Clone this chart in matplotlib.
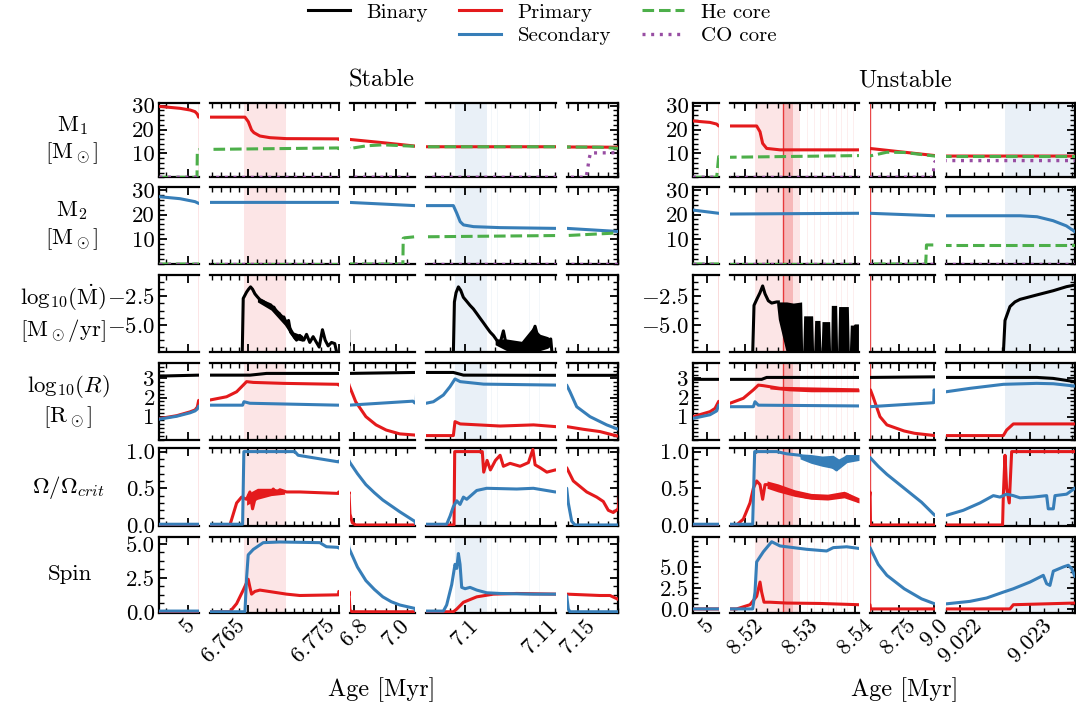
import matplotlib
matplotlib.use('Agg')
import matplotlib.pyplot as plt
from matplotlib.lines import Line2D
from matplotlib.ticker import MultipleLocator, AutoMinorLocator

plt.rcParams.update({
    'font.family': 'serif',
    'font.serif': ['cmr10'],
    'mathtext.fontset': 'cm',
    'axes.formatter.use_mathtext': True,
    'font.size': 17.5,
    'axes.linewidth': 1.6,
})

RED, BLUE, GREEN, PURPLE = '#e41a1c', '#377eb8', '#4daf4a', '#984ea3'

# ---------------- Stable system ----------------
st_m1_age = [3.715, 4.645, 5.095, 5.32, 5.425, 5.485,
             6.76075, 6.76462, 6.76499, 6.76535, 6.76561, 6.76627, 6.76738, 6.76922, 6.77496,
             6.775, 6.9366, 7.0884, 7.0948, 7.1120, 7.1387, 7.192]
st_m1 = [29.7, 28.9, 28.2, 27.5, 26.5, 25.2,
         25.2, 25.2, 23.3, 19.8, 18.7, 17.3, 16.6, 16.2, 16.1,
         15.9, 14.5, 13.1, 12.8, 12.8, 12.7, 12.6]
st_he1_age = [3.715, 5.41, 5.425, 5.485, 6.76075, 6.77496, 6.775, 6.8589, 6.9366, 7.0884,
              7.0948, 7.1120, 7.1387, 7.172, 7.192]
st_he1 = [0, 0, 11.3, 11.5, 11.7, 12.3, 12.0, 13.2, 13.6, 13.0, 12.8, 12.8, 12.7, 12.6, 12.1]
st_co1_age = [3.715, 7.158, 7.1595, 7.161, 7.1625, 7.192]
st_co1 = [0, 0, 3.0, 7.5, 10.2, 10.3]

st_m2_age = [3.715, 4.645, 5.32, 5.485, 6.76075, 6.77496, 6.775, 7.0884, 7.0948, 7.09844,
             7.09890, 7.09935, 7.09979, 7.10112, 7.10467, 7.1120, 7.1387, 7.192]
st_m2 = [27.2, 26.4, 25.2, 24.5, 24.9, 24.9, 24.9, 23.6, 23.6, 23.6,
         20.5, 17.1, 15.8, 15.1, 14.7, 14.4, 14.4, 13.1]
st_he2_age = [3.715, 7.0322, 7.0338, 7.0419, 7.0884, 7.0948, 7.1120, 7.1387, 7.192]
st_he2 = [0, 0, 10.4, 10.6, 11.0, 11.0, 11.5, 11.5, 12.6]
st_co2_age = [3.715, 7.192]
st_co2 = [0, 0]

st_mdot1_age = [6.76432, 6.76443, 6.76480, 6.76502, 6.76524, 6.76546, 6.76572, 6.76598, 6.76627,
                6.76664, 6.76701, 6.76730, 6.76756, 6.76782, 6.76811, 6.76841, 6.76867, 6.76892,
                6.76922, 6.76944, 6.76966, 6.76995, 6.77032, 6.77069, 6.77113, 6.77143, 6.77179,
                6.77216, 6.77253, 6.77283, 6.77319, 6.77349, 6.77382, 6.77419, 6.77455, 6.77481]
st_mdot1 = [-7.5, -2.7, -2.15, -1.9, -1.7, -1.9, -2.3, -2.55, -2.8,
            -2.95, -3.15, -3.3, -3.5, -3.45, -3.9, -4.0, -4.4, -4.3,
            -4.9, -4.6, -5.6, -5.9, -6.3, -5.9, -6.3, -5.8, -6.5,
            -6.0, -6.5, -6.9, -5.4, -6.3, -6.8, -6.5, -6.6, -7.5]
st_band1_age = [6.7660, 6.7675, 6.7690, 6.7700, 6.7710]
st_band1_hi = [-2.6, -3.1, -4.3, -5.6, -5.9]
st_band1_lo = [-3.0, -3.7, -5.0, -6.2, -6.4]
st_mdot2_age = [7.09844, 7.09858, 7.09880, 7.09911, 7.09942, 7.09977, 7.10022, 7.10066, 7.10110,
                7.10155, 7.10199, 7.10244, 7.10288, 7.10333, 7.10377, 7.10421, 7.10465, 7.10510,
                7.10554, 7.10643, 7.10732, 7.10821, 7.10887, 7.10931, 7.10976, 7.11042, 7.11109,
                7.11140, 7.11158]
st_mdot2 = [-7.5, -3.0, -2.2, -1.7, -2.0, -2.6, -2.95, -3.3, -3.6,
            -4.0, -4.4, -4.8, -5.2, -5.6, -5.9, -6.3, -6.6, -5.5,
            -6.9, -7.1, -7.0, -6.8, -5.9, -5.1, -6.2, -6.4, -6.3, -6.2, -7.5]
st_band2_age = [7.1040, 7.1055, 7.1075, 7.1090, 7.1100, 7.1110, 7.1114]
st_band2_hi = [-6.2, -6.2, -6.4, -5.2, -5.8, -6.0, -6.2]
st_band2_lo = [-6.7, -7.2, -7.3, -7.3, -7.2, -7.0, -6.8]

st_rb_age = [3.715, 5.485, 6.76075, 6.76519, 6.76701, 6.77496, 6.775, 7.0884, 7.0948, 7.09844,
             7.09979, 7.1120, 7.1387, 7.188, 7.192]
st_rb = [3.12, 3.17, 3.17, 3.17, 3.26, 3.26, 3.26, 3.31, 3.31, 3.31, 3.17, 3.16, 3.16, 3.16, 3.22]
st_r1_age = [3.715, 4.495, 5.095, 5.32, 5.425, 5.485,
             6.76075, 6.76259, 6.76370, 6.76443, 6.76480, 6.76554, 6.76885, 6.77496,
             6.775, 6.7912, 6.8073, 6.8558, 6.9042, 6.9527, 7.0173, 7.0884,
             7.0948, 7.09844, 7.09866, 7.09935, 7.10467, 7.10911, 7.1120,
             7.1387, 7.1553, 7.172, 7.1853, 7.192]
st_r1 = [0.9, 1.05, 1.25, 1.35, 1.5, 1.85,
         1.87, 2.04, 2.3, 2.65, 2.83, 2.79, 2.74, 2.69,
         2.65, 2.22, 1.78, 1.0, 0.57, 0.3, 0.1, 0.04,
         0.01, 0.01, 0.74, 0.62, 0.51, 0.57, 0.48,
         0.48, 0.34, 0.22, 0.04, -0.04]
st_r2_age = [3.715, 4.495, 5.095, 5.32, 5.425, 5.485,
             6.76075, 6.76436, 6.76451, 6.76517, 6.77496,
             6.775, 7.08, 7.0884,
             7.0948, 7.09578, 7.09711, 7.09800, 7.09866, 7.09935, 7.10246, 7.1120,
             7.1387, 7.1420, 7.1487, 7.1620, 7.1787, 7.1903]
st_r2 = [0.87, 1.02, 1.2, 1.3, 1.4, 1.55,
         1.6, 1.6, 1.78, 1.70, 1.6,
         1.6, 1.81, 1.72,
         1.7, 1.78, 2.13, 2.57, 2.97, 2.83, 2.70, 2.65,
         2.65, 2.3, 1.52, 1.0, 0.57, 0.34]

st_w1_age = [3.715, 5.485,
             6.76075, 6.76296, 6.76333, 6.76370, 6.76425, 6.76480, 6.76517, 6.76546, 6.76591,
             6.76664, 6.76701, 6.76738, 6.76775, 6.76811, 6.76848, 6.76922, 6.77069, 6.77496,
             6.775, 6.7798, 6.7911, 6.8073, 7.0884,
             7.0948, 7.09853, 7.09862, 7.10229, 7.10248, 7.10293, 7.10337, 7.10404, 7.10466,
             7.10510, 7.10599, 7.10732, 7.10843, 7.10902, 7.10932, 7.10999, 7.11088, 7.1120,
             7.1387, 7.1453, 7.1587, 7.1687, 7.1753, 7.1803, 7.1853, 7.1903, 7.192]
st_w1 = [0, 0,
         0, 0, 0.15, 0.3, 0.38, 0.35, 0.45, 0.22, 0.45,
         0.4, 0.47, 0.42, 0.49, 0.44, 0.48, 0.45, 0.45, 0.43,
         0.45, 0.15, 0.03, 0.0, 0.0,
         0, 0, 1.0, 1.0, 0.72, 0.88, 0.75, 0.88, 0.95,
         0.8, 0.84, 0.8, 0.85, 1.03, 0.82, 0.78, 0.72, 0.75,
         0.78, 0.6, 0.45, 0.38, 0.32, 0.2, 0.17, 0.22, 0.5]
st_w1_band_age = [6.7648, 6.7660, 6.7675, 6.7690]
st_w1_band_hi = [0.42, 0.5, 0.5, 0.48]
st_w1_band_lo = [0.27, 0.35, 0.4, 0.42]
st_w2_age = [3.715, 5.485,
             6.76075, 6.76436, 6.76450, 6.77014, 6.77050, 6.77496,
             6.775, 6.8154, 6.8557, 6.8961, 6.9365, 6.9769, 7.0173, 7.0884,
             7.0948, 7.09755, 7.09800, 7.09844, 7.09889, 7.09933, 7.09978, 7.10022, 7.10155,
             7.10288, 7.10687, 7.10909, 7.1120,
             7.1387, 7.1403, 7.1437, 7.147, 7.192]
st_w2 = [0.01, 0.01,
         0.01, 0.01, 1.0, 1.0, 0.95, 0.86,
         0.87, 0.7, 0.55, 0.44, 0.34, 0.26, 0.18, 0.05,
         0.01, 0.01, 0.12, 0.25, 0.33, 0.28, 0.38, 0.35, 0.47,
         0.5, 0.49, 0.5, 0.45,
         0.5, 0.3, 0.05, 0.0, 0.0]

st_s1_age = [3.715, 5.485,
             6.76075, 6.76296, 6.76370, 6.76443, 6.76498, 6.76517, 6.76535, 6.76572, 6.76627,
             6.76775, 6.76922, 6.77069, 6.77496,
             6.775, 6.7798, 6.7911, 7.0884,
             7.0948, 7.09844, 7.09889, 7.09978, 7.10155, 7.10377, 7.10687, 7.1120,
             7.1387, 7.172, 7.1820, 7.192]
st_s1 = [0, 0,
         0, 0, 0.6, 1.6, 2.4, 1.8, 1.3, 1.5, 1.6,
         1.45, 1.3, 1.2, 1.25,
         1.5, 0.1, 0.0, 0.0,
         0, 0, 0.2, 0.7, 1.1, 1.3, 1.35, 1.3,
         1.3, 1.2, 1.2, 0.85]
st_s2_age = [3.715, 5.485,
             6.76075, 6.76462, 6.76480, 6.76498, 6.76554, 6.76664, 6.76848, 6.77290, 6.77363, 6.77496,
             6.775, 6.8154, 6.8557, 6.8961, 6.9365, 6.9769, 7.0173, 7.0884,
             7.0948, 7.09711, 7.09755, 7.09822, 7.09866, 7.09889, 7.09911, 7.09933, 7.09955,
             7.10000, 7.10066, 7.10155, 7.10288, 7.10465, 7.10909, 7.1120,
             7.1387, 7.1403, 7.142, 7.192]
st_s2 = [0.05, 0.05,
         0.0, 0.0, 2.5, 4.2, 4.6, 5.1, 5.15, 5.1, 4.8, 4.75,
         4.7, 3.3, 2.3, 1.65, 1.1, 0.74, 0.5, 0.25,
         0.05, 0.05, 0.5, 2.0, 3.5, 3.2, 4.3, 3.5, 1.8,
         1.7, 1.8, 1.6, 1.4, 1.35, 1.3, 1.3,
         1.2, 0.2, 0.0, 0.0]

# mass-transfer intervals (start, end)
st_red_spans = [(5.47, 5.49), (6.76451, 6.76915)]
st_blue_spans = [(7.09866, 7.10288), (7.1387, 7.1392)]
st_faint_blue = [7.1035, 7.1043, 7.1085, 7.1098]

# ---------------- Unstable system ----------------
un_m1_age = [4.400, 5.129, 5.415, 5.501,
             8.51727, 8.52211, 8.52272, 8.52320, 8.52393, 8.52635, 8.54070,
             8.545, 9.004, 9.0218, 9.02364]
un_m1 = [23.6, 23.0, 22.3, 21.5,
         21.5, 21.5, 19.1, 14.2, 12.1, 11.5, 11.5,
         12.1, 9.1, 8.9, 8.9]
un_he1_age = [4.400, 5.415, 5.501, 8.51727, 8.54070, 8.545, 8.6662, 8.7880, 9.004, 9.0218, 9.02364]
un_he1 = [0, 0, 8.7, 8.4, 9.1, 8.9, 10.5, 10.4, 8.9, 8.9, 8.9]
un_co1_age = [4.400, 8.988, 8.994, 8.999, 9.004, 9.0218, 9.02364]
un_co1 = [0, 0, 1.7, 5.9, 6.5, 7.0, 7.0]

un_m2_age = [4.4, 5.501, 8.51727, 8.5407, 8.545, 9.004, 9.0218, 9.02286, 9.02310, 9.02333, 9.02352, 9.02364]
un_m2 = [21.8, 20.5, 20.2, 20.5, 20.5, 19.5, 19.5, 19.5, 19.1, 17.5, 15.4, 13.1]
un_he2_age = [4.4, 8.9400, 8.9450, 9.004, 9.0218, 9.02364]
un_he2 = [0, 0, 7.7, 7.7, 7.7, 7.7]
un_co2_age = [4.4, 9.02364]
un_co2 = [0, 0]

un_mdot1_age = [8.52139, 8.52163, 8.52211, 8.52272, 8.52320, 8.52363, 8.52423, 8.52484, 8.52575, 8.52605]
un_mdot1 = [-7.5, -3.3, -2.8, -2.2, -1.62, -2.3, -2.9, -3.1, -3.0, -3.0]
un_env_age = [8.52575, 8.52605, 8.52756, 8.52877, 8.53028, 8.53047, 8.53065, 8.53228, 8.53246,
              8.53265, 8.53361, 8.53380, 8.53398, 8.53537, 8.53555, 8.53567, 8.53664, 8.53682,
              8.53700, 8.53876, 8.53894, 8.53912, 8.53967, 8.53985, 8.54040, 8.54060]
un_env_top = [-3.0, -3.0, -3.0, -3.1, -3.0, -7.5, -4.2, -4.2, -7.5,
              -4.6, -4.6, -7.5, -4.7, -4.7, -7.5, -3.3, -3.3, -7.5,
              -3.4, -3.4, -7.5, -5.0, -5.0, -4.9, -4.9, -4.9]
un_env_bot = [-3.2, -4.5, -7.5, -7.5, -7.5, -7.5, -7.5, -7.5, -7.5,
              -7.5, -7.5, -7.5, -7.5, -7.5, -7.5, -7.5, -7.5, -7.5,
              -7.5, -7.5, -7.5, -7.5, -7.5, -7.5, -7.5, -7.5]
un_mdot2_age = [9.022619, 9.022643, 9.022714, 9.022785, 9.022857, 9.023095, 9.023333, 9.023523, 9.023643]
un_mdot2 = [-7.5, -4.6, -3.4, -3.0, -2.78, -2.4, -2.03, -1.68, -1.54]

un_rb_age = [4.4, 5.501, 8.51727, 8.52302, 8.52393, 8.5407, 8.545, 9.004, 9.0218, 9.02310, 9.02333, 9.02364]
un_rb = [2.95, 2.95, 2.95, 2.95, 3.05, 3.05, 3.05, 3.08, 3.05, 3.05, 3.0, 2.83]
un_r1_age = [4.4, 5.129, 5.344, 5.501,
             8.51727, 8.51969, 8.52151, 8.52242, 8.52332, 8.52635, 8.5407,
             8.551, 8.5694, 8.6181, 8.6668, 8.7886, 8.8617, 9.004,
             9.0218, 9.022619, 9.022666, 9.022762, 9.02364]
un_r1 = [1.0, 1.26, 1.43, 1.8,
         1.7, 1.96, 2.4, 2.65, 2.62, 2.48, 2.4,
         2.4, 2.04, 1.0, 0.57, 0.25, 0.13, 0.01,
         0.01, 0.01, 0.3, 0.62, 0.62]
un_r1_band_age = [8.5245, 8.5280, 8.5320, 8.5360, 8.5400, 8.5407]
un_r1_band_hi = [2.6, 2.5, 2.45, 2.45, 2.45, 2.45]
un_r1_band_lo = [2.45, 2.35, 2.3, 2.3, 2.3, 2.3]
un_r2_age = [4.4, 5.129, 5.415, 5.501,
             8.51727, 8.52151, 8.52181, 8.52242, 8.5407,
             8.545, 8.996, 8.999, 9.004,
             9.0218, 9.022142, 9.022619, 9.023095, 9.023333, 9.02364]
un_r2 = [0.91, 1.1, 1.3, 1.6,
         1.52, 1.52, 1.78, 1.6, 1.56,
         1.52, 1.73, 2.4, 2.3,
         2.3, 2.48, 2.69, 2.74, 2.72, 2.6]

un_w1_age = [4.4, 5.501,
             8.51727, 8.51848, 8.51969, 8.52090, 8.52151, 8.52211, 8.52272, 8.52320, 8.52363,
             8.52454, 8.52635, 8.52877, 8.53119, 8.53482, 8.53846, 8.53967, 8.5407,
             8.548, 8.5515, 9.004,
             9.0218, 9.022609, 9.022619, 9.022643, 9.022666, 9.022704, 9.022738, 9.02364]
un_w1 = [0, 0,
         0, 0, 0.08, 0.3, 0.5, 0.6, 0.55, 0.35, 0.55,
         0.55, 0.48, 0.42, 0.38, 0.37, 0.42, 0.36, 0.32,
         0.45, 0.0, 0.0,
         0.0, 0.0, 0.4, 0.95, 0.5, 0.3, 1.0, 1.0]
un_w1_band_age = [8.5240, 8.5260, 8.5290, 8.5320, 8.5350, 8.5380, 8.5407]
un_w1_band_hi = [0.6, 0.56, 0.48, 0.43, 0.42, 0.46, 0.37]
un_w1_band_lo = [0.5, 0.45, 0.39, 0.35, 0.34, 0.37, 0.3]
un_w2_age = [4.4, 5.501,
             8.51727, 8.52139, 8.52175, 8.52575, 8.52756, 8.52998, 8.53119, 8.53300, 8.53482,
             8.53664, 8.53846, 8.5407,
             8.548, 8.6059, 8.6668, 8.7886, 8.9104, 9.004,
             9.0218, 9.022047, 9.022285, 9.022476, 9.022571, 9.022666, 9.022762, 9.022857,
             9.023047, 9.023238, 9.023261, 9.023333, 9.023357, 9.023523, 9.02364]
un_w2 = [0.01, 0.01,
         0.01, 0.01, 1.0, 1.0, 0.97, 0.95, 0.9, 0.85, 0.85,
         0.75, 0.93, 0.92,
         0.92, 0.8, 0.69, 0.5, 0.31, 0.13,
         0.13, 0.2, 0.3, 0.4, 0.38, 0.42, 0.4, 0.37,
         0.38, 0.4, 0.22, 0.22, 0.4, 0.42, 0.5]
un_w2_band_age = [8.5300, 8.5320, 8.5340, 8.5360, 8.5370, 8.5385, 8.5407]
un_w2_band_hi = [0.97, 0.96, 0.94, 0.95, 0.9, 0.96, 0.96]
un_w2_band_lo = [0.9, 0.84, 0.8, 0.77, 0.76, 0.85, 0.88]

un_s1_age = [4.4, 5.501,
             8.51727, 8.51848, 8.52090, 8.52211, 8.52272, 8.52302, 8.52345, 8.52454, 8.52756,
             8.53361, 8.5407,
             8.548, 8.5515, 9.004,
             9.0218, 9.022714, 9.022762, 9.02364]
un_s1 = [0, 0,
         0, 0, 0.5, 1.5, 3.2, 2.0, 0.8, 0.8, 0.7,
         0.65, 0.5,
         0.5, 0.0, 0.0,
         0, 0, 0.5, 0.7]
un_s2_age = [4.4, 5.501,
             8.51727, 8.52139, 8.52181, 8.52211, 8.52332, 8.52484, 8.52635, 8.52877, 8.53119,
             8.53482, 8.53603, 8.53846, 8.5407,
             8.548, 8.6059, 8.6668, 8.7886, 8.9104, 9.004,
             9.0218, 9.022142, 9.022380, 9.022619, 9.022762, 9.023000, 9.023190, 9.023238,
             9.023285, 9.023333, 9.023476, 9.023547, 9.023595, 9.02364]
un_s2 = [0, 0,
         0, 0, 2.0, 5.6, 6.8, 8.0, 7.5, 7.3, 7.1,
         6.9, 7.3, 7.4, 7.2,
         7.3, 5.3, 4.0, 2.4, 1.2, 0.6,
         0.6, 0.9, 1.3, 2.0, 2.4, 3.2, 4.0, 3.0,
         2.8, 4.5, 5.0, 5.2, 4.8, 3.9]

un_red_spans = [(8.52181, 8.52998)]
un_dark_spans = [(8.52689, 8.52871)]
un_red_lines = [5.505, 8.5495, 8.5269]
un_faint_red = [8.5312, 8.5325, 8.5336, 8.5351, 8.5366, 8.5375, 8.5385, 8.5397]
un_blue_spans = [(9.022643, 9.0237)]

# ---------------- axes layout (pixels) ----------------
W, H = 1076, 715
rows_px = [(103.3, 177.3), (187.3, 264), (275.3, 351.7), (362.7, 440), (448.3, 526), (536.7, 612.7)]
st_cols = [(159, 199), (209.5, 339), (350, 415), (426, 556), (567, 618)]
un_cols = [(693, 719), (730, 859), (870, 935), (946, 1075)]

st_xlims = [(3.7, 5.5), (6.7607, 6.77502), (6.78, 7.09), (7.0948, 7.1121), (7.139, 7.190)]
st_xticks = [[5], [6.765, 6.775], [6.8, 7.0], [7.1, 7.11], [7.15]]
st_xlabels = [['5'], ['6.765', '6.775'], ['6.8', '7.0'], ['7.1', '7.11'], ['7.15']]
st_xha = ['center', 'right', 'center', 'center', 'center']
st_xminor = [1, 0.001, 0.05, 0.002, 0.01]
un_xlims = [(4.4, 5.515), (8.51727, 8.5407), (8.548, 9.005), (9.0218, 9.023643)]
un_xticks = [[5], [8.52, 8.53, 8.54], [8.75, 9.0], [9.022, 9.023]]
un_xlabels = [['5'], ['8.52', '8.53', '8.54'], ['8.75', '9.0'], ['9.022', '9.023']]
un_xha = ['center', 'center', 'center', 'center']
un_xminor = [1, 0.002, 0.0625, 0.0002]

y_ticks = [[10, 20, 30], [10, 20, 30], [-5.0, -2.5], [1, 2, 3], [0.0, 0.5, 1.0], [0.0, 2.5, 5.0]]
y_labels = [['10', '20', '30'], ['10', '20', '30'], ['$-5.0$', '$-2.5$'], ['1', '2', '3'],
            ['0.0', '0.5', '1.0'], ['0.0', '2.5', '5.0']]
y_ndivs = [5, 5, 4, 5, 5, 4]
st_ylims = [(0, 31), (0, 31), (-7.3, -0.7), (-0.22, 3.82), (-0.014, 1.045), (-0.07, 5.54)]
un_ylims = [(0, 31), (0, 31), (-7.3, -0.7), (-0.22, 3.82), (-0.014, 1.045), (-0.45, 8.6)]

row_titles = ['M$_1$\n[M$_\\odot$]', 'M$_2$\n[M$_\\odot$]',
              'log$_{10}$($\\dot{\\rm M}$)\n[M$_\\odot$/yr]', 'log$_{10}(R)$\n[R$_\\odot$]',
              '$\\Omega/\\Omega_{crit}$', 'Spin']
row_title_x = [72, 72, 63, 68, 68, 70]

styles = {
    'bin': dict(color='k', lw=2.2, zorder=3),
    'p': dict(color=RED, lw=2.2, zorder=3),
    's': dict(color=BLUE, lw=2.2, zorder=3),
    'he': dict(color=GREEN, lw=2.2, ls=(0, (3.8, 1.6)), zorder=4),
    'co': dict(color=PURPLE, lw=2.4, ls=(0, (0.9, 1.7)), zorder=4),
}

st_rows = [
    [(st_m1_age, st_m1, 'p'), (st_he1_age, st_he1, 'he'), (st_co1_age, st_co1, 'co')],
    [(st_m2_age, st_m2, 's'), (st_he2_age, st_he2, 'he'), (st_co2_age, st_co2, 'co')],
    [(st_mdot1_age, st_mdot1, 'bin'), (st_mdot2_age, st_mdot2, 'bin'),
     ('fill', st_band1_age, st_band1_lo, st_band1_hi, 'k'),
     ('fill', st_band2_age, st_band2_lo, st_band2_hi, 'k')],
    [(st_rb_age, st_rb, 'bin'), (st_r1_age, st_r1, 'p'), (st_r2_age, st_r2, 's')],
    [(st_w1_age, st_w1, 'p'), ('fill', st_w1_band_age, st_w1_band_lo, st_w1_band_hi, RED),
     (st_w2_age, st_w2, 's')],
    [(st_s1_age, st_s1, 'p'), (st_s2_age, st_s2, 's')],
]
un_rows = [
    [(un_m1_age, un_m1, 'p'), (un_he1_age, un_he1, 'he'), (un_co1_age, un_co1, 'co')],
    [(un_m2_age, un_m2, 's'), (un_he2_age, un_he2, 'he'), (un_co2_age, un_co2, 'co')],
    [(un_mdot1_age, un_mdot1, 'bin'), ('fill', un_env_age, un_env_bot, un_env_top, 'k'),
     (un_mdot2_age, un_mdot2, 'bin')],
    [(un_rb_age, un_rb, 'bin'), (un_r1_age, un_r1, 'p'),
     ('fill', un_r1_band_age, un_r1_band_lo, un_r1_band_hi, RED), (un_r2_age, un_r2, 's')],
    [(un_w1_age, un_w1, 'p'), ('fill', un_w1_band_age, un_w1_band_lo, un_w1_band_hi, RED),
     (un_w2_age, un_w2, 's'), ('fill', un_w2_band_age, un_w2_band_lo, un_w2_band_hi, BLUE)],
    [(un_s1_age, un_s1, 'p'), (un_s2_age, un_s2, 's')],
]

st_shade = ([(a, b, RED, 0.11) for a, b in st_red_spans] +
            [(a, b, BLUE, 0.11) for a, b in st_blue_spans] +
            [(x, x + 0.00012, BLUE, 0.06) for x in st_faint_blue])
un_shade = ([(a, b, RED, 0.11) for a, b in un_red_spans] +
            [(a, b, RED, 0.22) for a, b in un_dark_spans] +
            [(x, x + 0.00015, RED, 0.07) for x in un_faint_red] +
            [(a, b, BLUE, 0.11) for a, b in un_blue_spans])

fig = plt.figure(figsize=(W / 100, H / 100), dpi=100)


def draw_group(cols, xlims, xticks, xlabels, xha, xminor, ylims, rows_data, shade, vlines):
    last = len(cols) - 1
    for r, (y0, y1) in enumerate(rows_px):
        for c, (x0, x1) in enumerate(cols):
            ax = fig.add_axes([x0 / W, 1 - y1 / H, (x1 - x0) / W, (y1 - y0) / H])
            for a, b, col, al in shade:
                ax.axvspan(a, b, color=col, alpha=al, lw=0, zorder=0)
            for x in vlines:
                ax.axvline(x, color=RED, lw=1.0, alpha=0.8, zorder=1)
            for item in rows_data[r]:
                if item[0] == 'fill':
                    ax.fill_between(item[1], item[2], item[3], color=item[4], lw=0, zorder=3)
                else:
                    ax.plot(item[0], item[1], **styles[item[2]])
            ax.set_xlim(*xlims[c])
            ax.set_ylim(*ylims[r])
            ax.set_xticks(xticks[c], labels=xlabels[c])
            ax.xaxis.set_minor_locator(MultipleLocator(xminor[c]))
            ax.set_yticks(y_ticks[r], labels=y_labels[r])
            ax.yaxis.set_minor_locator(AutoMinorLocator(y_ndivs[r]))
            ax.tick_params(which='both', direction='in', top=True, bottom=True,
                           left=(c == 0), right=(c == last),
                           labelleft=(c == 0), labelright=False, labelbottom=(r == 5))
            ax.tick_params(which='major', length=6, width=1.3)
            ax.tick_params(which='minor', length=3.5, width=1.0)
            ax.tick_params(axis='x', labelrotation=45, pad=2, labelsize=16.5)
            ax.tick_params(axis='y', pad=3, labelsize=16.5)
            for lab in ax.get_xticklabels():
                lab.set_ha(xha[c])
            ax.spines['left'].set_visible(c == 0)
            ax.spines['right'].set_visible(c == last)


draw_group(st_cols, st_xlims, st_xticks, st_xlabels, st_xha, st_xminor, st_ylims, st_rows,
           st_shade, [])
draw_group(un_cols, un_xlims, un_xticks, un_xlabels, un_xha, un_xminor, un_ylims, un_rows,
           un_shade, un_red_lines)

for r, (y0, y1) in enumerate(rows_px):
    fig.text(row_title_x[r] / W, 1 - (y0 + y1) / 2 / H, row_titles[r], ha='center', va='center',
             multialignment='center', fontsize=16.5)

fig.text(382 / W, 1 - 80 / H, 'Stable', ha='center', va='center')
fig.text(905 / W, 1 - 80 / H, 'Unstable', ha='center', va='center')
fig.text(382 / W, 1 - 690 / H, 'Age [Myr]', ha='center', va='center')
fig.text(905 / W, 1 - 690 / H, 'Age [Myr]', ha='center', va='center')

handles = [Line2D([], [], **styles['bin']), Line2D([], [], color='none'),
           Line2D([], [], **styles['p']), Line2D([], [], **styles['s']),
           Line2D([], [], **styles['he']), Line2D([], [], **styles['co'])]
labels = ['Binary', ' ', 'Primary', 'Secondary', 'He core', 'CO core']
fig.legend(handles, labels, ncol=3, loc='upper center', bbox_to_anchor=(542 / W, 1.022),
           frameon=False, fontsize=15, handlelength=2.0, columnspacing=1.5,
           labelspacing=0.25, handletextpad=0.8)

fig.savefig('out.png', dpi=100)
